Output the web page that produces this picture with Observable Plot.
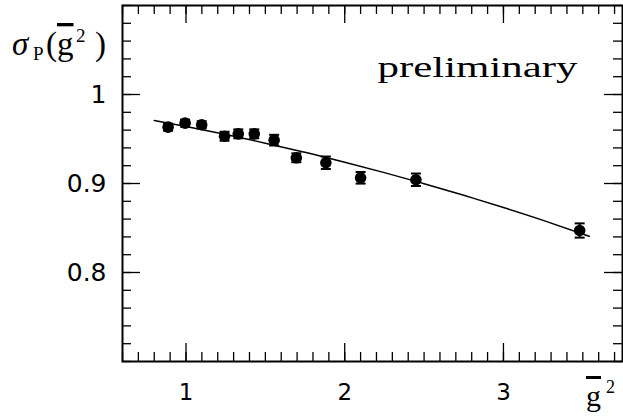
<!DOCTYPE html>
<html><head><meta charset="utf-8">
<script src="https://cdn.jsdelivr.net/npm/d3@7"></script>
<script src="https://cdn.jsdelivr.net/npm/@observablehq/plot@0.6"></script>
<style>body{margin:0;background:#fff} #chart{width:623px;height:416px}</style>
</head><body><div id="chart"></div>
<script>
// data
const g2    = [0.8873, 0.9944, 1.0989, 1.2430, 1.3293, 1.4300, 1.5553, 1.6950, 1.8811, 2.1000, 2.4484, 3.480];
const sigma = [0.9633, 0.9678, 0.9660, 0.9531, 0.9558, 0.9558, 0.9487, 0.9289, 0.9233, 0.9064, 0.9042, 0.8472];
const err   = [0.004, 0.004, 0.004, 0.005, 0.005, 0.005, 0.006, 0.005, 0.007, 0.0065, 0.007, 0.008];
const fitX  = [0.80, 1.00, 1.25, 1.50, 1.75, 2.00, 2.25, 2.50, 2.75, 3.00, 3.25, 3.54];
const fitY  = [0.9708, 0.9640, 0.9550, 0.9453, 0.9350, 0.9239, 0.9122, 0.8998, 0.8867, 0.8730, 0.8586, 0.8408];
const xMajor = [1, 2, 3];
const xTickLabels = ["1", "2", "3"];
const yMajor = [0.8, 0.9, 1];
const yTickLabels = ["0.8", "0.9", "1"];
const annotation = "preliminary";

const xMinor = d3.range(6, 38).map(i => i / 10);
const yMinor = d3.range(35, 56).map(i => i / 50);

const W = 623, H = 416, ML = 122, MR = 1, MT = 5, MB = 55;
const IW = W - ML - MR, IH = H - MT - MB;

const pts = g2.map((x, i) => ({x, y: sigma[i], e: err[i]}));
const fit = fitX.map((x, i) => ({x, y: fitY[i]}));
const cap = {draw(ctx, size) { const r = Math.sqrt(size / Math.PI); ctx.moveTo(-r, 0); ctx.lineTo(r, 0); }};

const tw = 1.3;
const plot = Plot.plot({
  width: W, height: H,
  marginLeft: ML, marginRight: MR, marginTop: MT, marginBottom: MB,
  x: {domain: [0.6, 3.75]},
  y: {domain: [0.7, 1.1]},
  style: {fontFamily: "DejaVu Sans", background: "white", color: "black"},
  marks: [
    // inward ticks on all four sides
    Plot.tickX(xMinor, {x: d => d, insetTop: IH - 9, strokeWidth: tw}),
    Plot.tickX(xMajor, {x: d => d, insetTop: IH - 18, strokeWidth: tw}),
    Plot.tickX(xMinor, {x: d => d, insetBottom: IH - 9, strokeWidth: tw}),
    Plot.tickX(xMajor, {x: d => d, insetBottom: IH - 18, strokeWidth: tw}),
    Plot.tickY(yMinor, {y: d => d, insetRight: IW - 9, strokeWidth: tw}),
    Plot.tickY(yMajor, {y: d => d, insetRight: IW - 18, strokeWidth: tw}),
    Plot.tickY(yMinor, {y: d => d, insetLeft: IW - 9, strokeWidth: tw}),
    Plot.tickY(yMajor, {y: d => d, insetLeft: IW - 18, strokeWidth: tw}),
    Plot.axisX(xMajor, {tickSize: 0, tickPadding: 22, fontSize: 23, label: null,
      tickFormat: d => xTickLabels[xMajor.indexOf(d)]}),
    Plot.axisY(yMajor, {tickSize: 0, tickPadding: 16, fontSize: 25, label: null,
      tickFormat: d => yTickLabels[yMajor.findIndex(v => Math.abs(v - d) < 1e-9)]}),
    Plot.frame({strokeWidth: 2}),
    Plot.line(fit, {x: "x", y: "y", curve: "natural", strokeWidth: 1.5}),
    Plot.ruleX(pts, {x: "x", y1: d => d.y - d.e, y2: d => d.y + d.e, strokeWidth: 2}),
    Plot.dot(pts, {x: "x", y: d => d.y + d.e, symbol: cap, r: 5, stroke: "black", strokeWidth: 2}),
    Plot.dot(pts, {x: "x", y: d => d.y - d.e, symbol: cap, r: 5, stroke: "black", strokeWidth: 2}),
    Plot.dot(pts, {x: "x", y: "y", r: 5.8, fill: "black"}),
    Plot.text([annotation], {text: d => d, frameAnchor: "top-right", textAnchor: "end", lineAnchor: "middle",
      dx: -45, dy: 62, fontSize: 29, fontFamily: "Liberation Serif"})
  ]
});
document.getElementById("chart").appendChild(plot);

const svg = d3.select(plot);
svg.selectAll("text").filter(function() { return this.textContent === annotation; })
  .attr("textLength", 200).attr("lengthAdjust", "spacingAndGlyphs");

// y-axis title  σ_P(g̅²)
const yt = svg.append("text").attr("y", 55).attr("text-anchor", "start")
  .attr("font-family", "Liberation Serif").attr("font-size", 33).attr("fill", "black");
yt.append("tspan").attr("x", 12).attr("font-style", "italic").text("σ");
yt.append("tspan").attr("x", 33).attr("font-size", 19).attr("dy", 5).text("P");
yt.append("tspan").attr("x", 46).attr("dy", -5).text("(");
yt.append("tspan").attr("x", 57).attr("text-decoration", "overline").text("g");
yt.append("tspan").attr("x", 76).attr("font-size", 19).attr("dy", -13).text("2");
yt.append("tspan").attr("x", 95).attr("dy", 13).text(")");

// x-axis title  g̅²
const xt = svg.append("text").attr("y", 406).attr("text-anchor", "start")
  .attr("font-family", "Liberation Serif").attr("font-size", 30).attr("fill", "black");
xt.append("tspan").attr("x", 586).attr("text-decoration", "overline").text("g");
xt.append("tspan").attr("x", 606).attr("font-size", 18).attr("dy", -13).text("2");
</script>
</body></html>
